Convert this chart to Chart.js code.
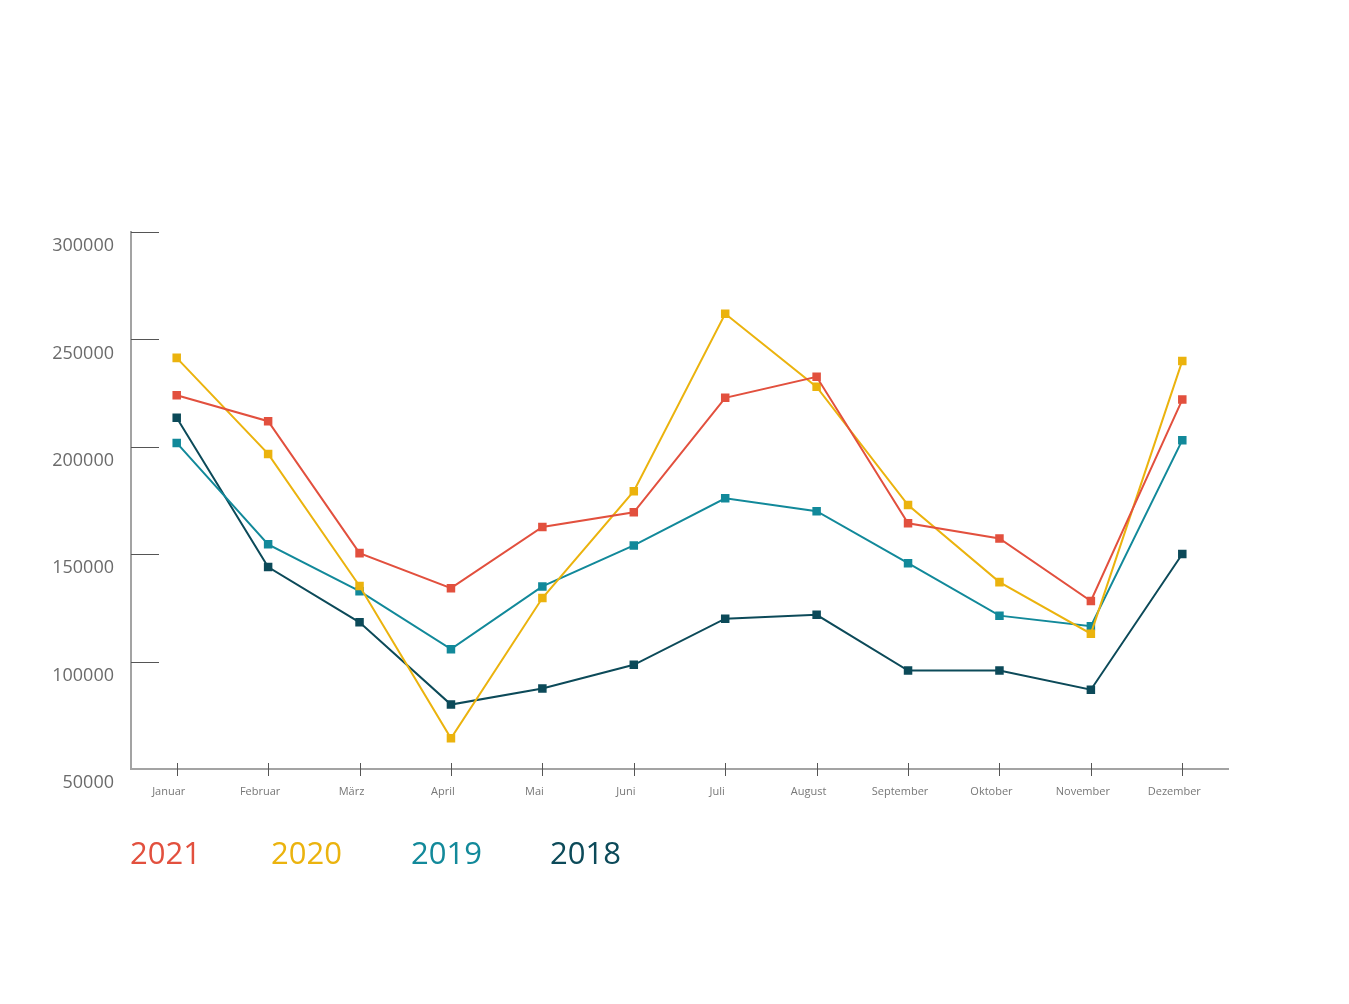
<!DOCTYPE html>
<html>
<head>
<meta charset="utf-8">
<script src="https://cdn.jsdelivr.net/npm/chart.js@4/dist/chart.umd.min.js"></script>
<style>
  body { margin: 0; background: #fff; }
  #wrap { position: relative; width: 1349px; height: 1004px; }
  #legend span {
    position: absolute;
    font-family: "Open Sans", sans-serif;
    font-size: 31px;
    line-height: 31px;
    top: 837px;
  }
</style>
</head>
<body>
<div id="wrap">
  <canvas id="myCanvas" width="1349" height="1004"></canvas>
  <div id="legend"></div>
</div>
<script>
'use strict';

const months = ['Januar', 'Februar', 'März', 'April', 'Mai', 'Juni', 'Juli', 'August', 'September', 'Oktober', 'November', 'Dezember'];
const years = ['2021', '2020', '2019', '2018'];
const colors = ['#e2503e', '#ebb30e', '#12899a', '#0c4a59'];

const values2021 = [224000, 211900, 150500, 134200, 162700, 169500, 222800, 232600, 164400, 157300, 128200, 222000];
const values2020 = [241400, 196700, 135200, 64300, 129600, 179300, 261900, 227900, 172900, 137000, 113000, 240000];
const values2019 = [201800, 154600, 132800, 105800, 135000, 154100, 176000, 170000, 145800, 121400, 116500, 203100];
const values2018 = [213500, 144000, 118300, 80000, 87500, 98500, 120000, 121800, 95800, 95900, 86900, 150100];

const yTicks = [50000, 100000, 150000, 200000, 250000, 300000];

const allValues = [values2021, values2020, values2019, values2018];

// short tick marks: inside the chart on y, crossing the axis on x
const tickMarks = {
  id: 'tickMarks',
  beforeDatasetsDraw(chart) {
    const ctx = chart.ctx;
    const area = chart.chartArea;
    const x = chart.scales.x;
    const y = chart.scales.y;
    ctx.save();
    ctx.strokeStyle = '#555';
    ctx.lineWidth = 1;
    ctx.beginPath();
    for (let i = 1; i < yTicks.length; i++) {
      let py = Math.round(y.getPixelForValue(yTicks[i])) + 0.5;
      ctx.moveTo(area.left, py);
      ctx.lineTo(area.left + 28, py);
    }
    for (let i = 0; i < months.length; i++) {
      let px = Math.round(x.getPixelForTick(i)) + 0.5;
      ctx.moveTo(px, area.bottom - 6);
      ctx.lineTo(px, area.bottom + 7);
    }
    ctx.stroke();
    ctx.restore();
  }
};

let datasets = [];
for (let i = 0; i < years.length; i++) {
  datasets.push({
    label: years[i],
    data: allValues[i],
    borderColor: colors[i],
    backgroundColor: colors[i],
    borderWidth: 2,
    pointStyle: 'rect',
    pointRadius: 4.6,
    pointHoverRadius: 4.6,
    tension: 0
  });
}

const config = {
  type: 'line',
  data: { labels: months, datasets: datasets },
  options: {
    responsive: false,
    animation: false,
    layout: { padding: { top: 232, right: 121, bottom: 195, left: 0 } },
    plugins: { legend: { display: false }, tooltip: { enabled: false } },
    scales: {
      x: {
        offset: true,
        grid: { display: false },
        border: { display: true, color: '#a3a3a3', width: 2 },
        ticks: {
          color: '#777',
          font: { family: 'Open Sans', size: 11 },
          padding: 8,
          labelOffset: -8,
          maxRotation: 0,
          autoSkip: false
        },
        afterFit(scale) { scale.height = 40; }
      },
      y: {
        min: 50000,
        max: 300000,
        grid: { display: false },
        border: { display: true, color: '#a3a3a3', width: 2 },
        afterBuildTicks(scale) { scale.ticks = yTicks.map(v => ({ value: v })); },
        ticks: {
          color: '#6b6b6b',
          font: { family: 'Open Sans', size: 18 },
          padding: 9,
          labelOffset: 14,
          callback: (value) => String(value)
        },
        afterFit(scale) { scale.width = 131; }
      }
    }
  },
  plugins: [tickMarks]
};

const chart = new Chart(document.getElementById('myCanvas'), config);

const legendLeft = [130, 271, 411, 550];
const legend = document.getElementById('legend');
for (let i = 0; i < years.length; i++) {
  let item = document.createElement('span');
  item.textContent = years[i];
  item.style.color = colors[i];
  item.style.left = legendLeft[i] + 'px';
  legend.appendChild(item);
}
</script>
</body>
</html>
